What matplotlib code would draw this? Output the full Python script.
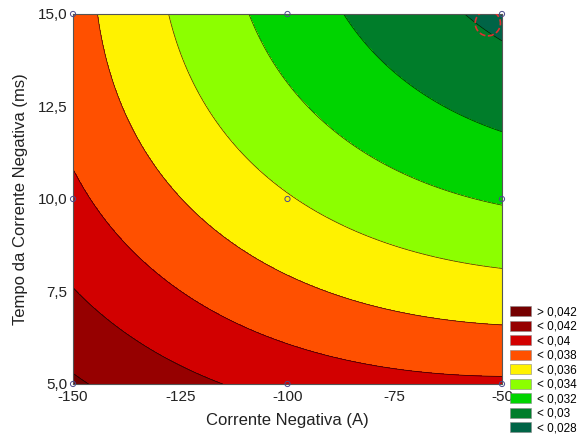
import matplotlib
matplotlib.use("Agg")
import matplotlib.pyplot as plt
import numpy as np
from matplotlib.patches import Patch

plt.rcParams["font.family"] = ["Liberation Sans", "DejaVu Sans"]

# Design points (corrente negativa, tempo) and the response read at each one
corrente = np.array([-150, -100, -50], dtype=float)
tempo = np.array([5.0, 10.0, 15.0])
# rows: tempo 5, 10, 15 ; columns: corrente -150, -100, -50
resposta = np.array([
    [0.04228, 0.03931, 0.03831],
    [0.03842, 0.03413, 0.03182],
    [0.03674, 0.03114, 0.02751],
])

niveis = [0.028, 0.030, 0.032, 0.034, 0.036, 0.038, 0.040, 0.042]
cores = ["#006446", "#007D2A", "#00D400", "#8CFF00", "#FFF200",
         "#FF5000", "#D20000", "#960000", "#750000"]
legenda = ["< 0,028", "< 0,03", "< 0,032", "< 0,034", "< 0,036",
           "< 0,038", "< 0,04", "< 0,042", "> 0,042"]

x_ticks = [-150, -125, -100, -75, -50]
x_labels = ["-150", "-125", "-100", "-75", "-50"]
y_ticks = [5.0, 7.5, 10.0, 12.5, 15.0]
y_labels = ["5,0", "7,5", "10,0", "12,5", "15,0"]

# highlighted point (red dashed circle)
destaque_x, destaque_y = -53.3, 14.75

# quadratic response surface fitted to the design points
X, Y = np.meshgrid(corrente, tempo)
u, v = (X.ravel() + 100) / 50, (Y.ravel() - 10) / 5
A = np.column_stack([np.ones_like(u), u, v, u**2, v**2, u * v])
coef, *_ = np.linalg.lstsq(A, resposta.ravel(), rcond=None)

gx, gy = np.meshgrid(np.linspace(-150, -50, 300), np.linspace(5, 15, 300))
gu, gv = (gx + 100) / 50, (gy - 10) / 5
gz = (coef[0] + coef[1] * gu + coef[2] * gv + coef[3] * gu**2
      + coef[4] * gv**2 + coef[5] * gu * gv)

fig = plt.figure(figsize=(5.79, 4.36), dpi=100)
ax = fig.add_axes([0.1261, 0.1193, 0.7409, 0.8486])

lv = [-1.0] + niveis + [1.0]
ax.contourf(gx, gy, gz, levels=lv, colors=cores)
ax.contour(gx, gy, gz, levels=niveis, colors="black", linewidths=0.5, alpha=0.8)

ax.scatter(X.ravel(), Y.ravel(), s=14, facecolors="none", edgecolors="#4b4b8c",
           linewidths=0.7, clip_on=False, zorder=5)
ax.scatter([destaque_x], [destaque_y], s=330, facecolors="none", edgecolors="#e03030",
           linewidths=1.2, linestyles="--", zorder=6)

ax.set_xlim(-150, -50)
ax.set_ylim(5, 15)
ax.set_xticks(x_ticks)
ax.set_xticklabels(x_labels)
ax.set_yticks(y_ticks)
ax.set_yticklabels(y_labels)
ax.tick_params(length=0, labelsize=11, pad=4, colors="#222222")
for s in ax.spines.values():
    s.set_color("#555555")
    s.set_linewidth(0.8)

ax.set_xlabel("Corrente Negativa (A)", fontsize=12, labelpad=7, color="#222222")
ax.set_ylabel("Tempo da Corrente Negativa (ms)", fontsize=12, labelpad=7, color="#222222")

handles = [Patch(facecolor=c, edgecolor="#888888", linewidth=0.4, label=l)
           for c, l in zip(cores[::-1], legenda[::-1])]
fig.legend(handles=handles, loc="upper left", bbox_to_anchor=(0.881, 0.298),
           frameon=False, fontsize=8.5, handlelength=1.75, handleheight=0.95,
           handletextpad=0.5, labelspacing=0.2, borderaxespad=0, borderpad=0)

fig.savefig("out.png", dpi=100)
